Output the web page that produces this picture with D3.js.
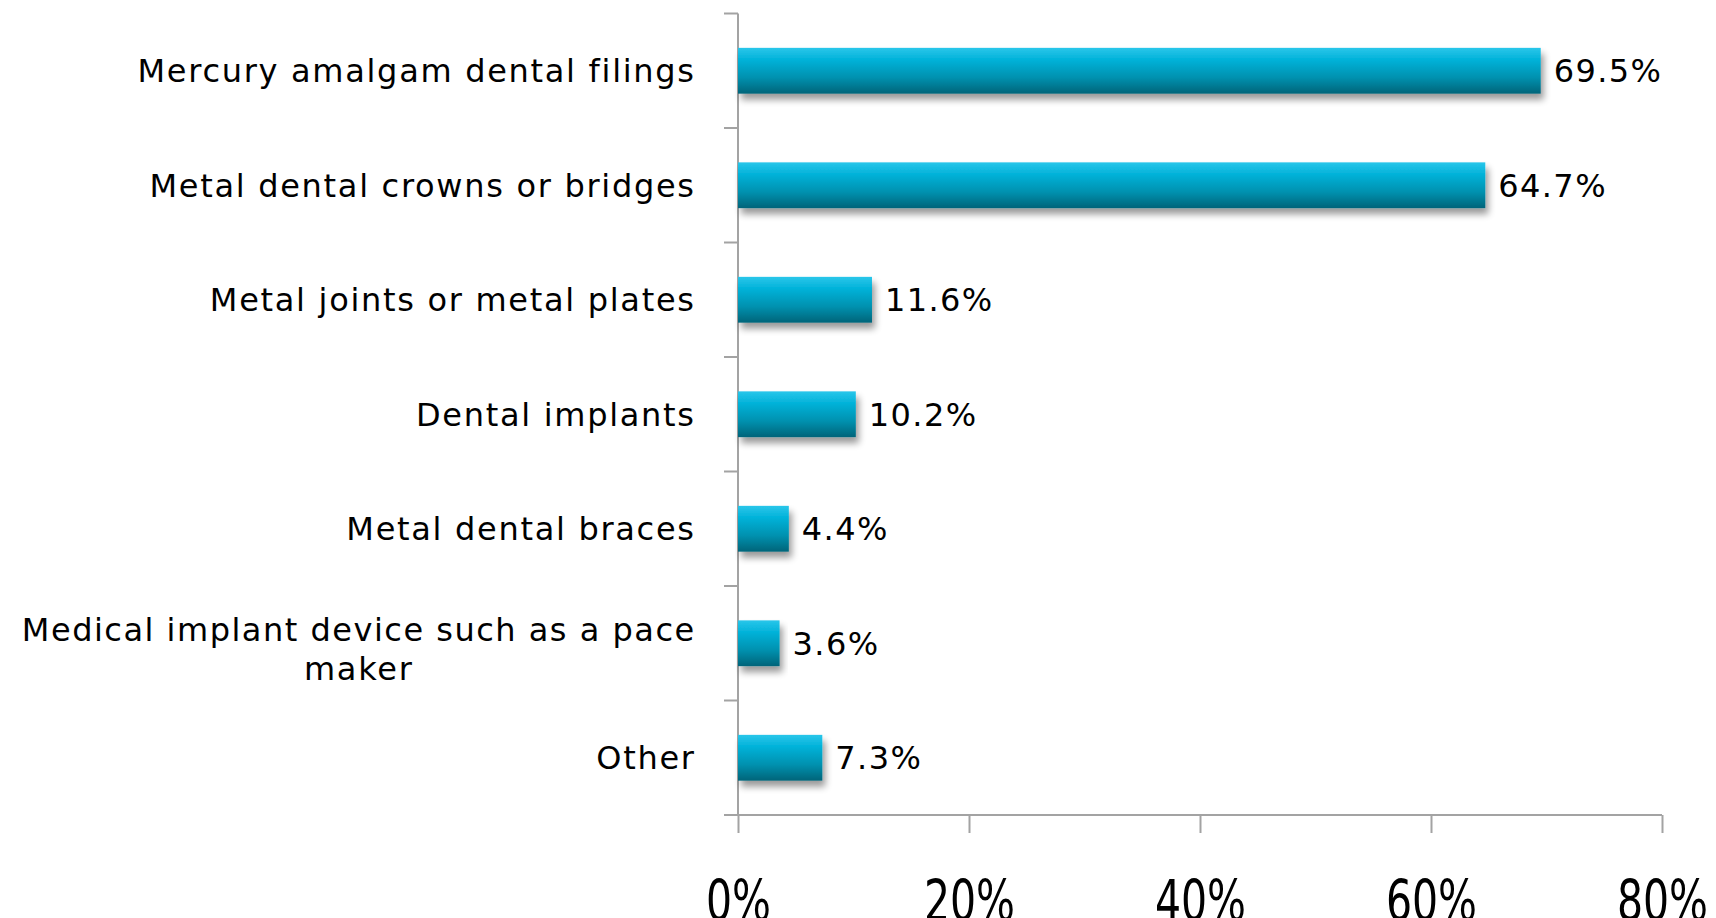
<!DOCTYPE html>
<html><head><meta charset="utf-8">
<script src="https://cdn.jsdelivr.net/npm/d3@7"></script>
<style>
html,body{margin:0;padding:0;background:#fff;overflow:hidden;}
svg{display:block;}
</style></head>
<body><svg id="chart" width="1716" height="918"></svg>
<script>
const categories = [
  "Mercury amalgam dental filings",
  "Metal dental crowns or bridges",
  "Metal joints or metal plates",
  "Dental implants",
  "Metal dental braces",
  "Medical implant device such as a pace maker",
  "Other"
];
const values = [69.5, 64.7, 11.6, 10.2, 4.4, 3.6, 7.3];
const valueLabels = ["69.5%", "64.7%", "11.6%", "10.2%", "4.4%", "3.6%", "7.3%"];
const xTicks = [0, 20, 40, 60, 80];
const xTickLabels = ["0%", "20%", "40%", "60%", "80%"];
const wrappedLines = {"Medical implant device such as a pace maker": ["Medical implant device such as a pace", "maker"]};

(function(){
const svg = d3.select("#chart");
const pLeft = 738, pRight = 1662, pTop = 13.5, pBottom = 815;

const x = d3.scaleLinear().domain([0, 80]).range([pLeft, pRight]);
const y = d3.scaleBand().domain(categories).range([pTop, pBottom]).paddingInner(0.6).paddingOuter(0.3);

const defs = svg.append("defs");
const grad = defs.append("linearGradient").attr("id", "barGrad").attr("x1", 0).attr("y1", 0).attr("x2", 0).attr("y2", 1);
grad.append("stop").attr("offset", "0%").attr("stop-color", "#2ac6ea");
grad.append("stop").attr("offset", "25%").attr("stop-color", "#03b3da");
grad.append("stop").attr("offset", "65%").attr("stop-color", "#0391af");
grad.append("stop").attr("offset", "100%").attr("stop-color", "#016479");
const f = defs.append("filter").attr("id", "shadow").attr("x", "-10%").attr("y", "-30%").attr("width", "130%").attr("height", "180%");
f.append("feGaussianBlur").attr("in", "SourceAlpha").attr("stdDeviation", 3.5).attr("result", "b");
f.append("feOffset").attr("in", "b").attr("dx", 3).attr("dy", 6).attr("result", "o");
f.append("feComponentTransfer").attr("in", "o").attr("result", "s")
  .append("feFuncA").attr("type", "linear").attr("slope", 0.4);
const m = f.append("feMerge");
m.append("feMergeNode").attr("in", "s");
m.append("feMergeNode").attr("in", "SourceGraphic");

const axisColor = "#a3a3a3";
const bandEdges = categories.map(c => y(c) - y.step() * y.paddingInner() / 2);
bandEdges.push(pBottom);
svg.append("g").selectAll("line").data(bandEdges).join("line")
  .attr("x1", pLeft - 14).attr("x2", pLeft).attr("y1", d => d).attr("y2", d => d)
  .attr("stroke", axisColor).attr("stroke-width", 2);
svg.append("line").attr("x1", pLeft).attr("x2", pLeft).attr("y1", pTop).attr("y2", pBottom)
  .attr("stroke", axisColor).attr("stroke-width", 2);

const font = "'DejaVu Sans', Verdana, sans-serif";

const xAxis = d3.axisBottom(x).tickValues(xTicks).tickSize(18).tickFormat((d, i) => xTickLabels[i]);
const gx = svg.append("g").attr("transform", `translate(0,${pBottom})`).call(xAxis);
gx.select(".domain").attr("stroke", axisColor).attr("stroke-width", 2).attr("d", `M${pLeft - 14},0H${pRight}`);
gx.selectAll(".tick line").attr("stroke", axisColor).attr("stroke-width", 2);
gx.selectAll(".tick text")
  .attr("fill", "#000").attr("y", 0).attr("dy", 0).attr("x", 0)
  .attr("transform", "translate(0,106) scale(1,1.38)")
  .style("font-family", font)
  .style("font-size", "41px");

svg.append("g").selectAll("rect").data(categories).join("rect")
  .attr("x", x(0)).attr("y", c => y(c))
  .attr("width", (c, i) => x(values[i]) - x(0)).attr("height", y.bandwidth())
  .attr("fill", "url(#barGrad)").attr("filter", "url(#shadow)");

const fs = 32, ls = 1.7;
svg.append("g").selectAll("text").data(categories).join("text")
  .attr("x", (c, i) => x(values[i]) + 13).attr("y", c => y(c) + y.bandwidth() / 2)
  .attr("dy", "0.36em").attr("font-family", font).attr("font-size", fs)
  .attr("letter-spacing", 1.4)
  .attr("fill", "#000").text((c, i) => valueLabels[i]);

const labelRight = 694 + ls;
const lg = svg.append("g");
categories.forEach(c => {
  const cy = y(c) + y.bandwidth() / 2;
  const lines = wrappedLines[c];
  if (!lines) {
    lg.append("text").attr("x", labelRight).attr("y", cy).attr("dy", "0.36em")
      .attr("text-anchor", "end").attr("font-family", font).attr("font-size", fs)
      .attr("letter-spacing", ls).attr("fill", "#000").text(c);
  } else {
    const t1 = lg.append("text").attr("x", labelRight).attr("y", cy - 2)
      .attr("text-anchor", "end").attr("font-family", font).attr("font-size", fs)
      .attr("letter-spacing", 1.5).attr("fill", "#000").text(lines[0]);
    const w = t1.node().getComputedTextLength();
    lg.append("text").attr("x", labelRight - w / 2).attr("y", cy + 37)
      .attr("text-anchor", "middle").attr("font-family", font).attr("font-size", fs)
      .attr("letter-spacing", ls).attr("fill", "#000").text(lines[1]);
  }
});
})();
</script></body></html>
